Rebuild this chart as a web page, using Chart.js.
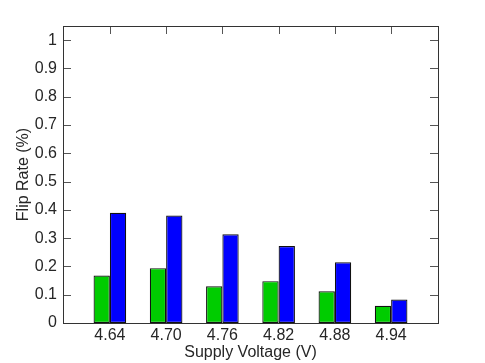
<!DOCTYPE html>
<html>
<head>
<meta charset="utf-8">
<script src="https://cdn.jsdelivr.net/npm/chart.js@4/dist/chart.umd.min.js"></script>
<style>
  html, body { margin: 0; padding: 0; background: #fff; }
  #chart { display: block; }
</style>
</head>
<body>
<canvas id="chart" width="485" height="363"></canvas>
<script>
// Tensions d'alimentation (catégories) et taux de basculement
const voltages = ['4.64', '4.70', '4.76', '4.82', '4.88', '4.94'];
const greenRates = [0.168, 0.194, 0.130, 0.148, 0.112, 0.061];
const blueRates = [0.390, 0.380, 0.314, 0.272, 0.215, 0.083];
const yTicks = [0, 0.1, 0.2, 0.3, 0.4, 0.5, 0.6, 0.7, 0.8, 0.9, 1];

const FONT = 'Liberation Sans, Arial, Helvetica, sans-serif';
const AXIS = '#333333';

// cadre + petites graduations vers l'intérieur (style MATLAB)
const boxTicks = {
  id: 'boxTicks',
  afterDatasetsDraw(chart) {
    const { ctx, chartArea: a, scales } = chart;
    ctx.save();
    ctx.strokeStyle = '#555555';
    ctx.lineWidth = 1;
    ctx.beginPath();
    yTicks.forEach(v => {
      const y = Math.round(scales.y.getPixelForValue(v)) + 0.5;
      ctx.moveTo(a.left, y); ctx.lineTo(a.left + 8, y);
      ctx.moveTo(a.right, y); ctx.lineTo(a.right - 8, y);
    });
    voltages.forEach((v, i) => {
      const x = Math.round(scales.x.getPixelForValue(i + 1)) + 0.5;
      ctx.moveTo(x, a.top); ctx.lineTo(x, a.top + 8);
    });
    ctx.stroke();
    ctx.strokeStyle = AXIS;
    ctx.strokeRect(Math.round(a.left) + 0.5, Math.round(a.top) + 0.5,
      Math.round(a.right - a.left), Math.round(a.bottom - a.top));
    ctx.restore();
  }
};

new Chart(document.getElementById('chart'), {
  type: 'bar',
  data: {
    datasets: [
      {
        data: greenRates.map((y, i) => ({ x: i + 1, y })),
        backgroundColor: '#00cc00',
        borderColor: '#111111',
        borderWidth: 1.2,
        borderSkipped: false
      },
      {
        data: blueRates.map((y, i) => ({ x: i + 1, y })),
        backgroundColor: '#0000ff',
        borderColor: '#111111',
        borderWidth: 1.2,
        borderSkipped: false
      }
    ]
  },
  options: {
    responsive: false,
    animation: false,
    devicePixelRatio: 1,
    categoryPercentage: 0.58,
    barPercentage: 1.0,
    layout: { padding: { left: 14, top: 26, right: 47, bottom: 0 } },
    plugins: { legend: { display: false }, tooltip: { enabled: false } },
    scales: {
      x: {
        type: 'linear',
        offset: false,
        min: 1 - 5 / 6,
        max: 6 + 5 / 6,
        afterBuildTicks: s => { s.ticks = voltages.map((v, i) => ({ value: i + 1 })); },
        afterFit: s => { s.height = 40; },
        grid: { display: false, drawTicks: false, offset: false },
        border: { display: false },
        ticks: {
          padding: 3,
          color: '#262626',
          font: { family: FONT, size: 16 },
          autoSkip: false,
          maxRotation: 0,
          callback: v => voltages[Math.round(v) - 1]
        },
        title: {
          display: true,
          text: 'Supply Voltage (V)',
          color: '#262626',
          font: { family: FONT, size: 16 },
          padding: { top: 0, bottom: 1 }
        }
      },
      y: {
        min: 0,
        max: 1.05,
        afterBuildTicks: s => { s.ticks = yTicks.map(v => ({ value: v })); },
        afterFit: s => { s.width = 49; },
        grid: { display: false, drawTicks: false },
        border: { display: false },
        ticks: {
          padding: 6,
          color: '#262626',
          font: { family: FONT, size: 16 },
          callback: v => String(+v.toFixed(1))
        },
        title: {
          display: true,
          text: 'Flip Rate (%)',
          color: '#262626',
          font: { family: FONT, size: 16 },
          padding: 0
        }
      }
    }
  },
  plugins: [boxTicks]
});
</script>
</body>
</html>
